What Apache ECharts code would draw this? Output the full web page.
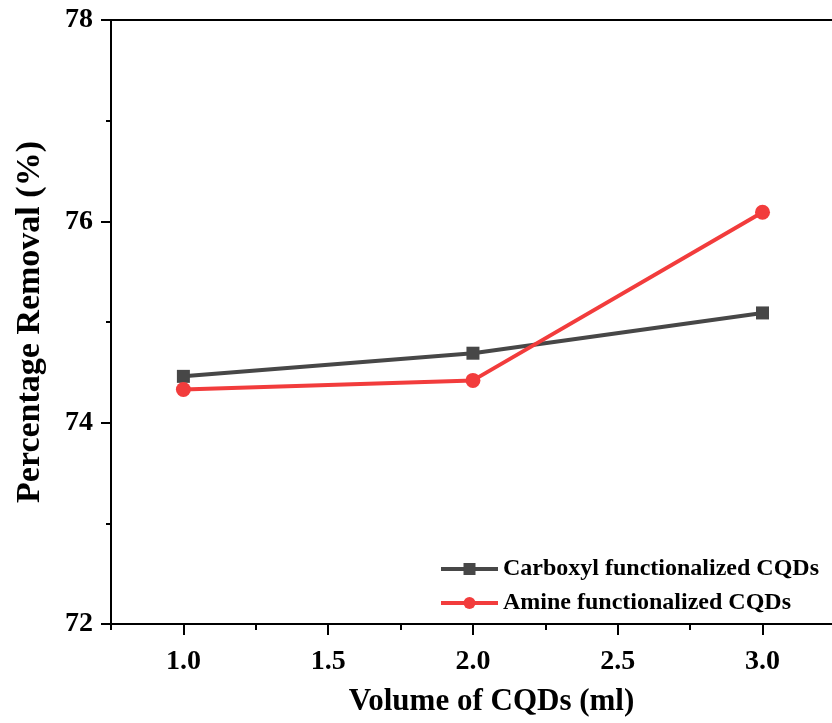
<!DOCTYPE html>
<html>
<head>
<meta charset="utf-8">
<script src="https://cdn.jsdelivr.net/npm/echarts@6/dist/echarts.min.js"></script>
<style>html,body{margin:0;padding:0;background:#fff;}#chart{width:832px;height:723px;}</style>
</head>
<body>
<div id="chart"></div>
<script>
const volumes = [1.0, 2.0, 3.0];
const carboxyl = [74.46, 74.69, 75.09];
const amine = [74.33, 74.42, 76.09];
const xMajorTicks = [1.0, 1.5, 2.0, 2.5, 3.0];
const xMinorTicks = [0.75, 1.25, 1.75, 2.25, 2.75, 3.25];
const seriesNames = ['Carboxyl functionalized CQDs', 'Amine functionalized CQDs'];
const xTitle = 'Volume of CQDs (ml)';
const yTitle = 'Percentage Removal (%)';

const FONT = '"Liberation Serif", "Times New Roman", serif';
const GRAY = '#474747';
const RED = '#f23c3c';
const chart = echarts.init(document.getElementById('chart'));
const pair = (xs, ys) => xs.map((x, i) => [x, ys[i]]);
const axisLineStyle = { color: '#000', width: 2 };

chart.setOption({
  animation: false,
  backgroundColor: '#fff',
  grid: { left: 111, right: 0, top: 20, bottom: 99, containLabel: false },
  legend: {
    orient: 'vertical',
    left: 434,
    top: 552,
    itemWidth: 57,
    itemHeight: 15,
    itemGap: 10,
    textStyle: { fontFamily: FONT, fontWeight: 'bold', fontSize: 24, color: '#000' },
    data: [
      { name: seriesNames[0], lineStyle: { width: 4 } },
      { name: seriesNames[1], lineStyle: { width: 4 } }
    ]
  },
  xAxis: [
    {
      type: 'value', position: 'bottom', min: 0.75, max: 3.24,
      axisLine: { show: true, lineStyle: axisLineStyle },
      axisTick: { show: true, length: 11, lineStyle: axisLineStyle, customValues: xMajorTicks },
      axisLabel: { show: true, margin: 24, customValues: xMajorTicks,
        formatter: v => v.toFixed(1),
        fontFamily: FONT, fontWeight: 'bold', fontSize: 28, color: '#000' },
      splitLine: { show: false },
      name: xTitle, nameLocation: 'middle', nameGap: 62,
      nameTextStyle: { fontFamily: FONT, fontWeight: 'bold', fontSize: 31, color: '#000', padding: [0, 0, 0, 40] }
    },
    {
      type: 'value', position: 'bottom', min: 0.75, max: 3.24,
      axisLine: { show: false },
      axisTick: { show: true, length: 6, lineStyle: axisLineStyle, customValues: xMinorTicks },
      axisLabel: { show: false },
      splitLine: { show: false }
    },
    {
      type: 'value', position: 'top', min: 0.75, max: 3.24,
      axisLine: { show: true, lineStyle: axisLineStyle },
      axisTick: { show: false }, axisLabel: { show: false }, splitLine: { show: false }
    }
  ],
  yAxis: {
    type: 'value', min: 72, max: 78, interval: 2,
    axisLine: { show: true, lineStyle: axisLineStyle },
    axisTick: { show: true, length: 10, lineStyle: axisLineStyle },
    minorTick: { show: true, splitNumber: 2, length: 5, lineStyle: axisLineStyle },
    axisLabel: { margin: 18, fontFamily: FONT, fontWeight: 'bold', fontSize: 28, color: '#000' },
    splitLine: { show: false },
    name: yTitle, nameLocation: 'middle', nameGap: 64, nameRotate: 90,
    nameTextStyle: { fontFamily: FONT, fontWeight: 'bold', fontSize: 34, color: '#000' }
  },
  series: [
    {
      name: seriesNames[0], type: 'line', xAxisIndex: 0,
      data: pair(volumes, carboxyl),
      symbol: 'rect', symbolSize: 13,
      lineStyle: { color: GRAY, width: 4 },
      itemStyle: { color: GRAY }
    },
    {
      name: seriesNames[1], type: 'line', xAxisIndex: 0,
      data: pair(volumes, amine),
      symbol: 'circle', symbolSize: 15,
      lineStyle: { color: RED, width: 4 },
      itemStyle: { color: RED }
    }
  ]
});
</script>
</body>
</html>
